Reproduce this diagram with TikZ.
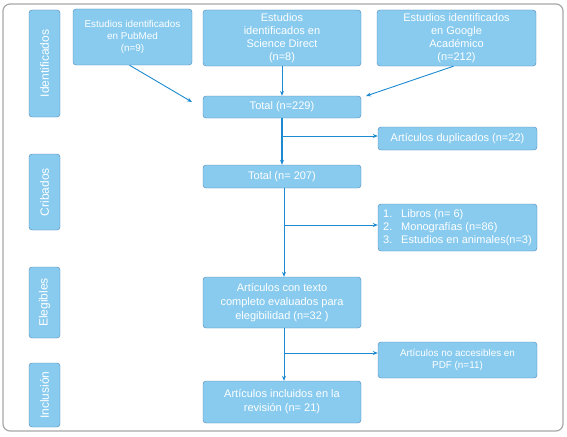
\documentclass[tikz,border=0pt]{standalone}
\usepackage{fontspec}
\setmainfont{Liberation Sans}
\usepackage{tikz}
\usetikzlibrary{arrows.meta,calc,positioning}
\usepackage{xcolor}
\definecolor{boxfill}{HTML}{88CBEF}
\definecolor{boxline}{HTML}{4F86B5}
\definecolor{flow}{HTML}{1C8AD0}
\definecolor{frame}{HTML}{A8A8A8}

\begin{document}
\begin{tikzpicture}[x=1pt,y=-1pt,>={Stealth[length=5pt,width=4pt]},
  box/.style={draw=boxline,fill=boxfill,rounded corners=3pt,text=white,
    font=\fontsize{11}{13.5}\selectfont,align=center,inner sep=1pt},
  small/.style={font=\fontsize{9.9}{12}\selectfont},
  phase/.style={draw=boxline,fill=boxfill,rounded corners=3pt,text=white,
    font=\fontsize{12}{14}\selectfont,rotate=90,minimum height=31pt,inner sep=0pt},
  link/.style={draw=flow,line width=0.9pt,->}]
  \useasboundingbox (0,0) rectangle (567,436);
  \draw[frame,line width=1.2pt,rounded corners=7pt] (3,4) rectangle (563,431);
  % fases
  \node[phase,minimum width=107pt] (pid) at (44.5,63.5) {Identificados};
  \node[phase,minimum width=76pt] (pcr) at (44.5,192) {Cribados};
  \node[phase,minimum width=71pt] (pel) at (44.5,302.5) {Elegibles};
  \node[phase,minimum width=64pt] (pin) at (44.5,395) {Inclusión};
  % fuentes
  \node[box,small,minimum width=119pt,minimum height=56pt] (pub) at (132.5,37)
    {Estudios identificados\\en PubMed\\(n=9)};
  \node[box,font=\fontsize{11}{12.8}\selectfont,minimum width=158pt,minimum height=56pt] (sd) at (282,38)
    {Estudios\\identificados en\\Science Direct\\(n=8)};
  \node[box,font=\fontsize{11}{12.8}\selectfont,minimum width=159pt,minimum height=56pt] (gs) at (456.5,38)
    {Estudios identificados\\en Google\\Académico\\(n=212)};
  % flujo central
  \node[box,minimum width=158pt,minimum height=22pt] (tot1) at (282,107) {Total (n=229)};
  \node[box,minimum width=158pt,minimum height=23pt] (tot2) at (282,176.5) {Total (n= 207)};
  \node[box,font=\fontsize{11}{14}\selectfont,minimum width=158pt,minimum height=51pt] (full) at (282,302.5)
    {Artículos con texto\\completo evaluados para\\elegibilidad (n=32 )};
  \node[box,font=\fontsize{11}{14}\selectfont,minimum width=158pt,minimum height=42pt] (incl) at (282,402)
    {Artículos incluidos en la\\revisión (n= 21)};
  % excluidos
  \node[box,minimum width=159pt,minimum height=23pt] (dup) at (457.5,138.5)
    {Artículos duplicados (n=22)};
  \node[box,minimum width=159pt,minimum height=47pt,align=left,
    font=\fontsize{11}{13}\selectfont] (excl) at (457.5,227.5)
    {\makebox[18pt][l]{1.}Libros (n= 6)\\
     \makebox[18pt][l]{2.}Monografías (n=86)\\
     \makebox[18pt][l]{3.}Estudios en animales(n=3)};
  \node[box,small,minimum width=159pt,minimum height=36pt] (noacc) at (457.5,360)
    {Artículos no accesibles en\\PDF (n=11)};
  % conectores
  \coordinate (pa) at (192,102);
  \coordinate (ga) at (366,96);
  \draw[link] ([xshift=-3pt]pub.south) -- (pa);
  \draw[link] (sd.south) -- (tot1.north);
  \draw[link] ([xshift=-3pt]gs.south) -- (ga);
  \draw[flow,line width=1.8pt,->] (tot1.south) -- (tot2.north);
  \coordinate (b1) at (282,136);
  \draw[link] (b1) -- (b1 -| dup.west);
  \draw[link] ([xshift=2pt]tot2.south) -- ([xshift=2pt]full.north);
  \coordinate (b2) at (284,225);
  \draw[link] (b2) -- (b2 -| excl.west);
  \draw[link] ([xshift=2pt]full.south) -- ([xshift=2pt]incl.north);
  \coordinate (b3) at (284,353);
  \draw[link] (b3) -- (b3 -| noacc.west);
\end{tikzpicture}
\end{document}
